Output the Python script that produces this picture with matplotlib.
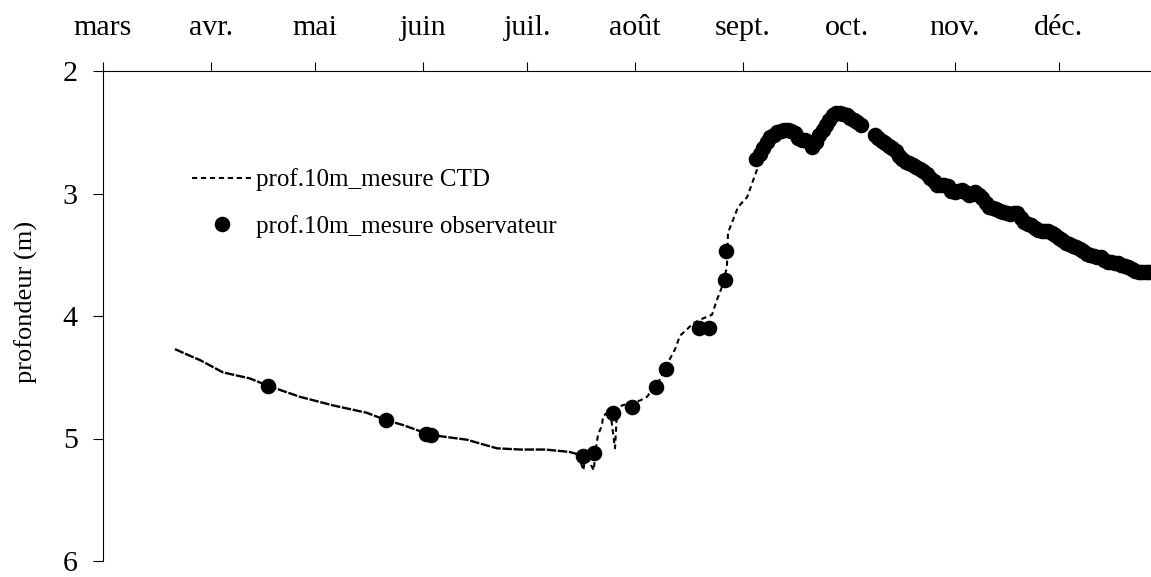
import matplotlib
matplotlib.use('Agg')
import matplotlib.pyplot as plt

family = 'Liberation Serif'

# month starts, in days since 1 March
MONTH_DAYS = [0, 31, 61, 92, 122, 153, 184, 214, 245, 275]
MONTH_NAMES = ['mars', 'avr.', 'mai', 'juin', 'juil.', 'août', 'sept.', 'oct.', 'nov.', 'déc.']

# CTD sensor at 10 m (days since 1 March, depth in m)
ctd_days = [20.7, 23.0, 27.9, 34.5, 42.3, 47.5, 56.7, 66.2, 75.9, 81.4, 86.3, 94.1,
            104.7, 113.3, 120.0, 127.2, 134.3, 136.7, 138.2, 138.8, 141.2, 141.6,
            142.4, 143.6, 143.8, 145.9, 147.3, 147.9, 149.3, 154.5, 156.5, 160.2,
            163.1, 164.6, 166.0, 168.0, 169.7, 172.6, 175.2, 176.6, 178.1, 179.5,
            179.8, 181.2, 182.7, 185.3, 186.7, 188.1, 189.0, 191.0, 194.0, 197.0,
            200.0, 203.0, 205.0, 208.0, 211.0, 214.0, 218.0, 220.0, 223.0, 228.0,
            235.0, 240.0, 245.0, 250.0, 255.0, 260.0, 265.0, 270.0, 275.0, 280.0,
            285.0, 290.0, 295.0, 301.0]
ctd_depth = [4.27, 4.30, 4.36, 4.46, 4.51, 4.57, 4.66, 4.73, 4.79, 4.85, 4.89, 4.97,
             5.01, 5.08, 5.09, 5.09, 5.11, 5.13, 5.26, 5.13, 5.26, 5.12,
             4.97, 4.89, 4.82, 4.77, 5.08, 4.77, 4.73, 4.69, 4.66, 4.52,
             4.35, 4.27, 4.16, 4.11, 4.06, 4.02, 3.99, 3.87, 3.76, 3.60,
             3.32, 3.22, 3.11, 3.03, 2.92, 2.81, 2.70, 2.58, 2.50, 2.48,
             2.55, 2.58, 2.62, 2.45, 2.35, 2.36, 2.44, 2.48, 2.57, 2.65,
             2.80, 2.93, 2.99, 3.00, 3.11, 3.16, 3.23, 3.31, 3.36, 3.44,
             3.51, 3.56, 3.60, 3.64]

# observer readings before the daily series
obs_days = [47.5, 81.4, 92.8, 94.5, 138.1, 141.3, 146.7, 152.2, 159.1, 162.0,
            171.5, 174.3, 178.9, 179.2]
obs_depth = [4.57, 4.85, 4.96, 4.97, 5.14, 5.12, 4.79, 4.74, 4.58, 4.43,
             4.10, 4.10, 3.71, 3.47]

# daily observer readings from day 188 to 301 (none on days 219-221)
daily_start = 188
daily_depth = [2.72, 2.68, 2.63, 2.58, 2.54, 2.52, 2.50, 2.49, 2.48, 2.48,
               2.49, 2.51, 2.55, 2.56, 2.56, 2.58, 2.62, 2.58, 2.52, 2.48,
               2.44, 2.40, 2.36, 2.34, 2.34, 2.35, 2.36, 2.38, 2.40, 2.42,
               2.44, None, None, None, 2.52, 2.55, 2.57, 2.59, 2.61, 2.63,
               2.65, 2.69, 2.72, 2.74, 2.75, 2.77, 2.78, 2.80, 2.82, 2.84,
               2.87, 2.90, 2.93, 2.93, 2.93, 2.94, 2.98, 2.99, 2.98, 2.97,
               2.99, 3.01, 3.00, 2.99, 3.01, 3.04, 3.08, 3.11, 3.12, 3.13,
               3.14, 3.15, 3.16, 3.17, 3.16, 3.16, 3.20, 3.23, 3.25, 3.26,
               3.28, 3.30, 3.31, 3.31, 3.31, 3.32, 3.34, 3.36, 3.38, 3.40,
               3.41, 3.43, 3.44, 3.45, 3.47, 3.49, 3.50, 3.51, 3.52, 3.52,
               3.54, 3.56, 3.56, 3.57, 3.57, 3.58, 3.59, 3.60, 3.62, 3.63,
               3.64, 3.64, 3.64, 3.64]

for i, d in enumerate(daily_depth):
    if d is not None:
        obs_days.append(daily_start + i)
        obs_depth.append(d)

W, H = 1151, 577
fig = plt.figure(figsize=(W / 100, H / 100), dpi=100)
ax = fig.add_axes([103 / W, 1 - 561 / H, 1 - 103 / W, (561 - 71) / H])

# slow spring/summer part of the record is dense enough to print almost solid
n_flat = 18
ax.plot(ctd_days[:n_flat], ctd_depth[:n_flat], color='black', lw=1.7,
        linestyle=(0, (4, 0.7)))
ax.plot(ctd_days[n_flat - 1:], ctd_depth[n_flat - 1:], color='black', lw=1.5,
        linestyle=(0, (2.5, 1.8)), label='prof.10m_mesure CTD')
ax.plot(obs_days, obs_depth, linestyle='none', marker='o', markersize=10.2,
        color='black', label='prof.10m_mesure observateur')

ax.set_xlim(0, 301.5)
ax.set_ylim(6, 2)
ax.set_yticks([2, 3, 4, 5, 6])
ax.set_xticks(MONTH_DAYS)
ax.set_xticklabels(MONTH_NAMES)

ax.xaxis.tick_top()
for s in ['bottom', 'right']:
    ax.spines[s].set_visible(False)
for s in ['top', 'left']:
    ax.spines[s].set_linewidth(0.8)
ax.tick_params(axis='x', direction='out', length=6.5, width=0.8, pad=15,
               labelsize=21.6)
ax.tick_params(axis='y', direction='out', length=7.2, width=0.8, pad=11,
               labelsize=21.6)
for lbl in ax.get_xticklabels() + ax.get_yticklabels():
    lbl.set_family(family)

fig.text(26 / W, 1 - 302 / H, 'profondeur (m)', rotation=90, ha='center',
         va='center', fontsize=19, family=family)

ax.legend(loc='upper left', bbox_to_anchor=(191.5 / W, 1 - 168.5 / H),
          bbox_transform=fig.transFigure, frameon=False, borderpad=0,
          borderaxespad=0, handlelength=2.4, handletextpad=0.2,
          labelspacing=0.93, prop={'family': family, 'size': 18})

plt.savefig('out.png', dpi=100)
